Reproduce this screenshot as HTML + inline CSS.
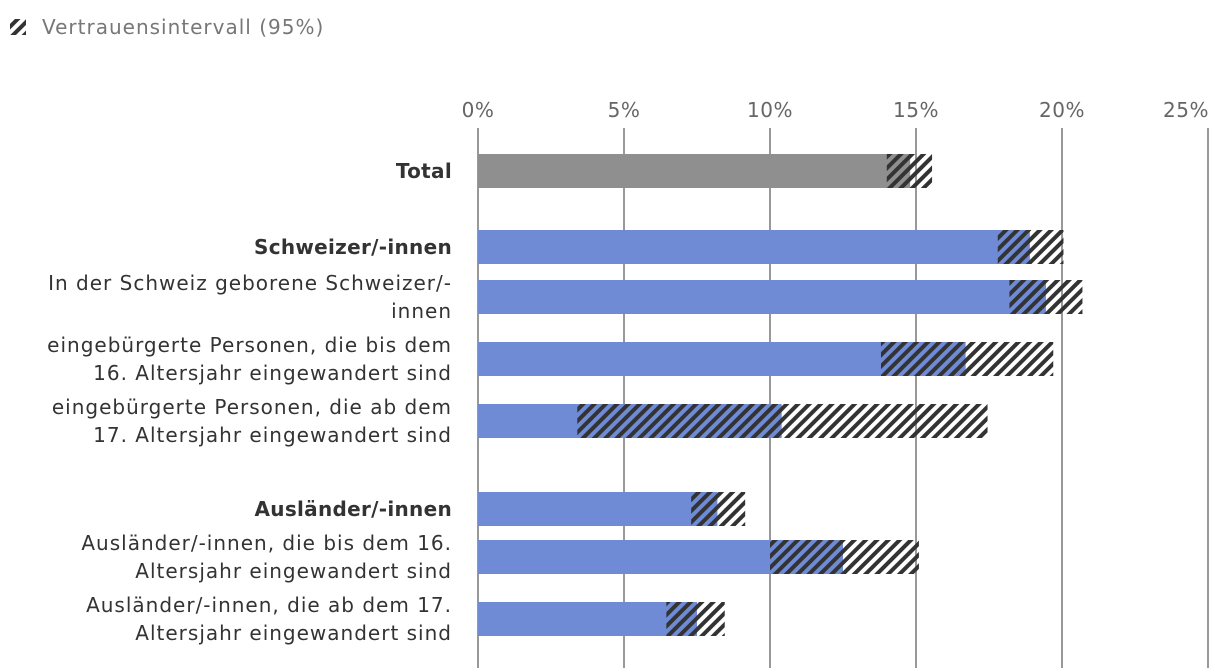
<!DOCTYPE html>
<html><head><meta charset="utf-8"><style>
html,body{margin:0;padding:0;background:#fff;}
svg{display:block;font-family:"DejaVu Sans","Liberation Sans",sans-serif;}
</style></head><body>
<svg id="chart" width="1220" height="668" viewBox="0 0 1220 668" xmlns="http://www.w3.org/2000/svg">
<defs>
<pattern id="hatch" patternUnits="userSpaceOnUse" width="8" height="8" patternTransform="rotate(45)">
<rect x="0" y="0" width="4" height="8" fill="#333"/>
</pattern>
</defs>
<g>
<rect x="10" y="19" width="16" height="16" fill="url(#hatch)"/>
<text x="42" y="34" font-size="20" letter-spacing="1" fill="#777">Vertrauensintervall (95%)</text>
</g>
<g id="grid"></g>
<g id="bars"></g>
<g id="labels"></g>
</svg>
<script>
const categories = [
 ["Total"],
 ["Schweizer/-innen"],
 ["In der Schweiz geborene Schweizer/-","innen"],
 ["eingebürgerte Personen, die bis dem","16. Altersjahr eingewandert sind"],
 ["eingebürgerte Personen, die ab dem","17. Altersjahr eingewandert sind"],
 ["Ausländer/-innen"],
 ["Ausländer/-innen, die bis dem 16.","Altersjahr eingewandert sind"],
 ["Ausländer/-innen, die ab dem 17.","Altersjahr eingewandert sind"]
];
const boldFlags = [true,true,false,false,false,true,false,false];
const values = [14.8,18.9,19.45,16.7,10.4,8.2,12.5,7.5];
const ciLow = [14.0,17.8,18.2,13.8,3.4,7.3,10.0,6.45];
const ciHigh = [15.55,20.05,20.7,19.7,17.45,9.15,15.1,8.45];
const ticks = [0,5,10,15,20,25];
const tickLabels = ["0%","5%","10%","15%","20%","25%"];

const NS="http://www.w3.org/2000/svg";
const x = v => 478 + v*29.2;
const rowY = [154,230,280,342,404,492,540,602];
const barH = 34;
function mk(tag, attrs, parent){const e=document.createElementNS(NS,tag);for(const k in attrs)e.setAttribute(k,attrs[k]);parent.appendChild(e);return e;}
const grid=document.getElementById('grid'), bars=document.getElementById('bars'), labels=document.getElementById('labels');
ticks.forEach((t,i)=>{
 const l=mk('line',{x1:x(t),x2:x(t),y1:128,y2:668,stroke:'#999','stroke-width':2},grid);
 
 
 const last = i===ticks.length-1;
 const tx=mk('text',{x:last?1209:x(t),y:117,'font-size':20,'letter-spacing':0.5,fill:'#666','text-anchor':last?'end':'middle'},grid);
 tx.textContent=tickLabels[i];
 
 
});
values.forEach((v,i)=>{
 const y=rowY[i];
 const b=mk('rect',{x:x(0),y:y,width:x(v)-x(0),height:barH,fill:i===0?'#8f8f8f':'#6f8bd6'},bars);
 
 
 const c=mk('rect',{x:x(ciLow[i]),y:y,width:x(ciHigh[i])-x(ciLow[i]),height:barH,fill:'url(#hatch)'},bars);
 
 
 const lines=categories[i];
 lines.forEach((s,j)=>{
  const ly = lines.length===1 ? y+24 : y+10+j*28;
  const t=mk('text',{x:452,y:ly,'font-size':20,'letter-spacing':boldFlags[i]?0.3:1,fill:'#333','text-anchor':'end','font-weight':boldFlags[i]?'bold':'normal'},labels);
  t.textContent=s;
  
  
 });
});
</script>
</body></html>
